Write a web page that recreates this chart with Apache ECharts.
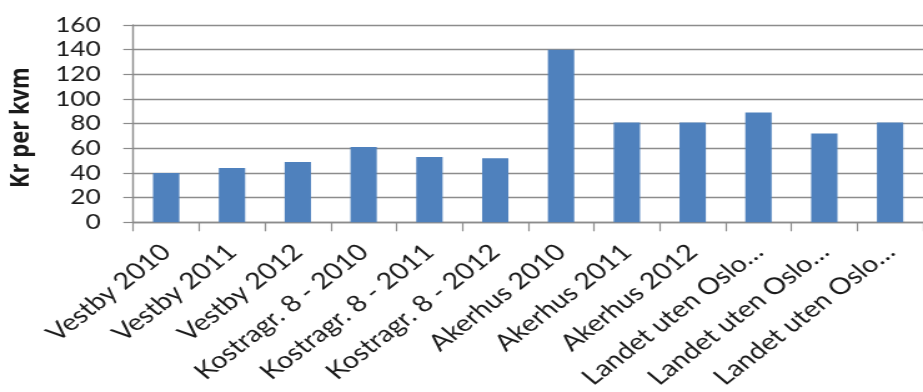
<!DOCTYPE html>
<html>
<head>
<meta charset="utf-8">
<script src="https://cdn.jsdelivr.net/npm/echarts@6/dist/echarts.min.js"></script>
<style>
  html, body { margin: 0; padding: 0; background: #fff; overflow: hidden; }
  /* chart is laid out narrower and widened horizontally to fill the 923px frame */
  #chart { width: 739px; height: 392px; transform: scaleX(1.249); transform-origin: 0 0; }
</style>
</head>
<body>
<div id="chart"></div>
<script>
const categories = [
  'Vestby 2010', 'Vestby 2011', 'Vestby 2012',
  'Kostragr. 8 - 2010', 'Kostragr. 8 - 2011', 'Kostragr. 8 - 2012',
  'Akerhus 2010', 'Akerhus 2011', 'Akerhus 2012',
  'Landet uten Oslo…', 'Landet uten Oslo…', 'Landet uten Oslo…'
];
const krPerKvm = [40, 44, 49, 61, 53, 52, 140, 81, 81, 89, 72, 81];
const yTicks = { min: 0, max: 160, interval: 20 };
const yTitle = 'Kr per kvm';

const gridGrey = '#8c8c8c';
const textColor = '#1a1a1a';

const chart = echarts.init(document.getElementById('chart'));
chart.setOption({
  animation: false,
  backgroundColor: '#fff',
  grid: { left: 106.7, right: 0, top: 25, bottom: 169.7, outerBoundsMode: 'none' },
  xAxis: {
    type: 'category',
    data: categories,
    axisLine: { lineStyle: { color: gridGrey, width: 1.4 } },
    axisTick: { show: true, length: 9, lineStyle: { color: gridGrey, width: 1.2 } },
    axisLabel: {
      interval: 0,
      rotate: 44,
      margin: 26,
      color: textColor,
      fontFamily: 'Lato',
      fontSize: 23
    }
  },
  yAxis: {
    type: 'value',
    min: yTicks.min,
    max: yTicks.max,
    interval: yTicks.interval,
    name: yTitle,
    nameLocation: 'middle',
    nameRotate: 90,
    nameGap: 79,
    nameTextStyle: {
      fontFamily: 'Open Sans',
      fontWeight: 'bold',
      fontSize: 22,
      color: textColor,
      padding: [0, 8, 0, 0]
    },
    axisLine: { show: true, lineStyle: { color: gridGrey, width: 1.4 } },
    axisTick: { show: true, length: 8, lineStyle: { color: gridGrey, width: 1.2 } },
    axisLabel: {
      margin: 26,
      color: textColor,
      fontFamily: 'Lato',
      fontSize: 21
    },
    splitLine: { show: true, lineStyle: { color: gridGrey, width: 1.4 } }
  },
  series: [{
    type: 'bar',
    data: krPerKvm,
    barWidth: '40%',
    itemStyle: { color: '#4f81bd' }
  }]
});
</script>
</body>
</html>
